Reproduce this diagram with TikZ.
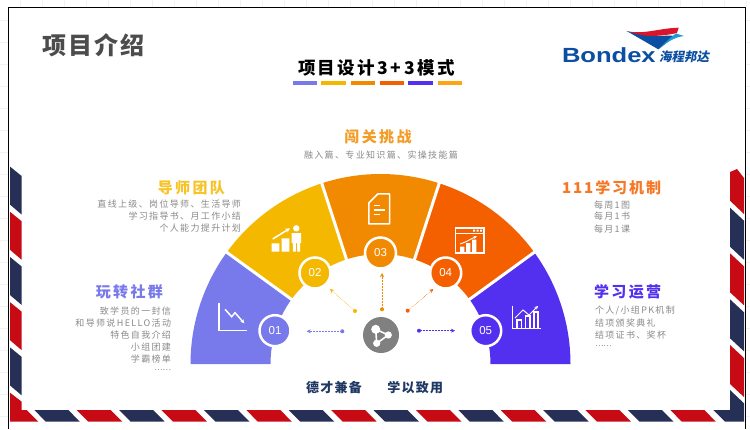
\documentclass[tikz,border=0pt]{standalone}
\usepackage{fontspec}
\setmainfont{Noto Sans CJK SC}
\newfontfamily\numfont{Liberation Sans}
\newfontfamily\logocjk[FakeSlant=0.2]{Noto Sans CJK SC}
\usetikzlibrary{arrows.meta}
\definecolor{cA}{HTML}{7879EA}
\definecolor{cB}{HTML}{F5B800}
\definecolor{cC}{HTML}{F18A00}
\definecolor{cD}{HTML}{F46000}
\definecolor{cE}{HTML}{5330EF}
\definecolor{cF}{HTML}{FFA514}
\definecolor{navy}{HTML}{263056}
\definecolor{mailred}{HTML}{C80A14}
\definecolor{logoblue}{HTML}{0B4EA2}
\definecolor{logolight}{HTML}{1E9AD6}
\definecolor{logored}{HTML}{D9142B}
\definecolor{bodygray}{HTML}{8A8A8A}
\definecolor{deep}{HTML}{1F3864}
\newcommand{\ft}[2]{\fontsize{#1}{#1}\selectfont\addfontfeature{LetterSpace=#2}}
\tikzset{
  txt/.style={inner sep=0pt,outer sep=0pt},
  heading/.style={txt,font=\ft{15}{16}\bfseries},
  body/.style={txt,text=bodygray,font=\ft{9}{15}},
  numc/.style={circle,draw=white,line width=2.5pt,minimum size=31pt,inner sep=0pt,text=white,font=\numfont\fontsize{11.5}{12}\selectfont},
  dotn/.style={circle,minimum size=4pt,inner sep=0pt},
  conn/.style={line width=.5pt,densely dotted,-{Stealth[length=4pt,width=4pt]}},
  icon/.style={draw=white,line width=1.5pt,fill=none},
  iconthin/.style={draw=white,line width=1.1pt,fill=none},
}
\begin{document}
\begin{tikzpicture}[x=1pt,y=-1pt]
\useasboundingbox (0,0) rectangle (750,429);
\fill[white] (0,0) rectangle (750,429);
% faint page grid outside the slide
\foreach \k in {1,...,34} \draw[black!5,line width=.4pt] (22*\k-2,0) -- (22*\k-2,7);
\foreach \k in {1,...,19} {\draw[black!5,line width=.4pt] (0,22*\k-2) -- (8,22*\k-2);
  \draw[black!5,line width=.4pt] (746,22*\k-2) -- (750,22*\k-2);}
% airmail border, left
\foreach \y/\c in {166.6/navy,211.8/mailred,257/navy,302.2/mailred,347.4/navy}
  \fill[\c] (10,\y) -- (21.7,\y+9.5) -- (21.7,\y+48) -- (10,\y+38) -- cycle;
\fill[mailred] (10,392.7) -- (21.7,401.7) -- (21.7,410) -- (26.7,410) -- (38.3,421.7) -- (10,421.7) -- cycle;
% right
\fill[mailred] (730,172) -- (737,169) -- (744,178) -- (744,214) -- (730,200.7) -- cycle;
\foreach \y/\c in {207.7/navy,253.3/mailred,299.3/navy,345/mailred}
  \fill[\c] (730,\y) -- (744,\y+13) -- (744,\y+52) -- (730,\y+39) -- cycle;
\fill[navy] (713.3,410) -- (730,410) -- (730,390) -- (744,403.3) -- (744,421.7) -- (725,421.7) -- cycle;
% bottom
\foreach \k in {0,...,15} {
  \pgfmathsetmacro{\xx}{34.3+42.4*\k}
  \pgfmathparse{int(mod(\k,2))}
  \ifnum\pgfmathresult=0 \def\c{navy}\else \def\c{mailred}\fi
  \fill[\c] (\xx,410) -- (\xx+34,410) -- (\xx+45.6,421.7) -- (\xx+11.6,421.7) -- cycle;
}
% frame
\draw[black,line width=1pt] (8.3,429) -- (8.3,7) -- (745.7,7) -- (745.7,429);

% titles
\node[txt,anchor=west,text=black!70,font=\ft{24}{9}\bfseries] (pagetitle) at (42,45) {项目介绍};
\node[txt,anchor=west,text=black,font=\ft{17.5}{14}\bfseries] (maintitle) at (298,68) {项目设计3+3模式};
\foreach \a/\b/\c in {292.7/316.7/cA,321/345.7/cB,350.7/375/cC,380/404/cD,408.3/432.7/cE,437.7/462/cF}
  \fill[\c] (\a,81.3) rectangle (\b,85.3);

% logo
\fill[logored] (626.7,31) .. controls (643,35) and (660,28) .. (678.7,27.7) -- (677,33) .. controls (662,36.5) and (645,36.5) .. (638,35.5) -- cycle;
\fill[logoblue] (626.7,31) .. controls (640,36) and (650,37) .. (668,35.5) -- (676,36) .. controls (670,40) and (664,45) .. (658.3,49.3) -- cycle;
\fill[logolight] (658.3,49.3) .. controls (666,42) and (672,36) .. (676,33.5) -- (684,36) .. controls (675,37) and (667,42) .. (658.3,49.3) -- cycle;
\node[txt,anchor=base west,text=logoblue,font=\numfont\bfseries\fontsize{19.5}{20}\selectfont] (bondex) at (562,62) {\scalebox{1.31}[1.05]{Bondex}};
\node[txt,anchor=west,text=logoblue,font=\logocjk\bfseries\fontsize{12.5}{13}\selectfont] (logozh) at (659,57) {海程邦达};

% fan
\begin{scope}[shift={(380.5,364)},y=1pt]
\foreach \a/\b/\c in {144/180/cA,108/144/cB,72/108/cC,36/72/cD,0/36/cE}
  \fill[\c] (\a:110) -- (\a:190) arc[start angle=\a,end angle=\b,radius=190] -- (\b:110) arc[start angle=\b,end angle=\a,radius=110] -- cycle;
\foreach \a in {36,72,108,144}
  \draw[white,line width=3pt] (\a:108) -- (\a:192);
\end{scope}

% number circles
\node[numc,fill=cA] (n1) at (275,330.7) {01};
\node[numc,fill=cB] (n2) at (315,273) {02};
\node[numc,fill=cC] (n3) at (380.5,253) {03};
\node[numc,fill=cD] (n4) at (445.7,273) {04};
\node[numc,fill=cE] (n5) at (485.7,330.7) {05};

% hub
\node[circle,fill=black!50,minimum size=36pt,inner sep=0pt] (hub) at (381,335) {};
\coordinate (h1) at (375.7,329.3);
\coordinate (h2) at (376.7,343.3);
\coordinate (h3) at (388.3,335);
\draw[white,line width=1.6pt] (h1) -- (h3) -- (h2) -- cycle;
\fill[white] (h1) circle[radius=4.5] (h2) circle[radius=3.6] (h3) circle[radius=3.6];

% dotted connectors
\node[dotn,fill=cA] (d1) at (342.3,331.3) {};
\coordinate (t1) at (306.7,331.3);
\draw[conn,cA] (d1) -- (t1);
\node[dotn,fill=cB] (d2) at (355,311) {};
\coordinate (t2) at (330,289);
\draw[conn,cB] (d2) -- (t2);
\node[dotn,fill=cC] (d3) at (382,309.3) {};
\coordinate (t3) at (382,273);
\draw[conn,cC] (d3) -- (t3);
\node[dotn,fill=cD] (d4) at (407.7,310.7) {};
\coordinate (t4) at (433.3,289);
\draw[conn,cD] (d4) -- (t4);
\node[dotn,fill=cE] (d5) at (419,330.7) {};
\coordinate (t5) at (455,330.7);
\draw[conn,cE] (d5) -- (t5);

% icon 01
\draw[icon] (219,302.7) -- (219,330.7) -- (247.3,330.7);
\draw[icon,-{Stealth[length=4pt,width=4pt]}] (225,309.3) -- (231.7,316.7) -- (235,312.7) -- (244.3,323.3);
% icon 02
\fill[white] (271.7,243.3) rectangle (279.3,251.7) (281.7,238.3) rectangle (289.3,251.7);
\fill[white] (296.3,228.3) circle[radius=3.2];
\fill[white] (291.7,233) rectangle (301,243) (292.8,243) rectangle (295.8,251.7) (297,243) rectangle (300,251.7);
\draw[white,line width=1.5pt,-{Stealth[length=4.5pt,width=4.5pt]}] (272.7,239) -- (290,228.3);
% icon 03
\draw[icon,line join=round] (368.8,203) -- (378,193.8) -- (389.5,193.8) -- (389.5,223.8) -- (368.8,223.8) -- cycle;
\draw[iconthin] (373.5,205.7) -- (380,205.7) (373.5,210) -- (385,210) (373.5,214.3) -- (380,214.3);
% icon 04
\draw[iconthin] (455.5,228) rectangle (484,253);
\draw[iconthin] (455.5,233.5) -- (484,233.5);
\fill[white] (473,229.7) rectangle (475,231.5) (476.6,229.7) rectangle (478.6,231.5) (480.2,229.7) rectangle (482.2,231.5);
\fill[white] (460,246.5) rectangle (464.3,252) (466,243) rectangle (470.3,252) (472,239.5) rectangle (476.3,252);
\draw[white,line width=.9pt,-{Stealth[length=3.5pt,width=3.5pt]}] (460,244) .. controls (467,242) and (472,238) .. (477,236.5);
% icon 05
\draw[iconthin] (512.5,305.7) -- (512.5,328.3) -- (540.7,328.3);
\draw[iconthin] (517,328) -- (517,320) -- (521.5,320) -- (521.5,328) (525.5,328) -- (525.5,316) -- (530,316) -- (530,328) (534,328) -- (534,312) -- (538,312) -- (538,328);
\draw[white,line width=1pt,-{Stealth[length=3.5pt,width=3.5pt]}] (515,318) -- (523,310) -- (529,315) -- (538,306);

% labels
\node[heading,text=cC!85!white] (h3t) at (378,136.5) {闯关挑战};
\node[body,anchor=center] (h3b) at (381,155) {融入篇、专业知识篇、实操技能篇};
\node[heading,text=cB!85!white,anchor=east] (h2t) at (225,187.5) {导师团队};
\node[body,anchor=east] (b21) at (241,204.5) {直线上级、岗位导师、生活导师};
\node[body,anchor=east] (b22) at (241,216.5) {学习指导书、月工作小结};
\node[body,anchor=east] (b23) at (241,228.3) {个人能力提升计划};
\node[heading,text=cA,anchor=east] (h1t) at (163,291.5) {玩转社群};
\node[body,anchor=east] (b11) at (171,310.7) {致学员的一封信};
\node[body,anchor=east] (b12) at (171,322.7) {和导师说HELLO活动};
\node[body,anchor=east] (b13) at (171,335) {特色自我介绍};
\node[body,anchor=east] (b14) at (171,347) {小组团建};
\node[body,anchor=east] (b15) at (171,359) {学霸榜单};
\node[body,anchor=east,font=\ft{8}{0}] (b16) at (171,370.5) {……};
\node[txt,text=cD!85!white,anchor=west,font=\ft{15}{13}\bfseries] (h4t) at (562,188) {111学习机制};
\node[body,anchor=west] (b41) at (594,204.7) {每周1图};
\node[body,anchor=west] (b42) at (594,216.5) {每月1书};
\node[body,anchor=west] (b43) at (594,229) {每月1课};
\node[heading,text=cE,anchor=west] (h5t) at (594,291.5) {学习运营};
\node[body,anchor=west] (b51) at (595,311) {个人/小组PK机制};
\node[body,anchor=west] (b52) at (595,323) {结项颁奖典礼};
\node[body,anchor=west] (b53) at (595,335) {结项证书、奖杯};
\node[body,anchor=west,font=\ft{8}{0}] (b54) at (595,346.5) {……};
\node[txt,anchor=west,text=deep,font=\ft{13}{10}\bfseries] (m1) at (306,388) {德才兼备};
\node[txt,anchor=west,text=deep,font=\ft{13}{10}\bfseries] (m2) at (387.3,388) {学以致用};
\end{tikzpicture}
\end{document}
